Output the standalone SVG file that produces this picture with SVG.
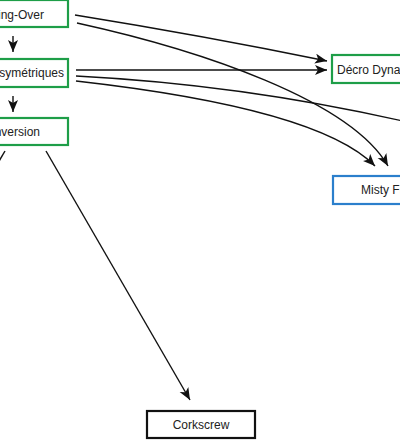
<svg xmlns="http://www.w3.org/2000/svg" width="400" height="440" viewBox="0 0 400 440">
  <style>
    .g{fill:#fff;stroke:#1e9e48;stroke-width:2.2}
    .b{fill:#fff;stroke:#2b7fcc;stroke-width:2.2}
    .k{fill:#fff;stroke:#111;stroke-width:2.2}
    .t{font-family:"Liberation Sans","DejaVu Sans",sans-serif;font-size:12px;fill:#222}
    .e{fill:none;stroke:#111;stroke-width:1.4}
  </style>
  <defs>
    <marker id="ah" markerUnits="userSpaceOnUse" markerWidth="14" markerHeight="12" refX="12" refY="5" orient="auto">
      <path d="M0,0 L12,5 L0,10 L3,5 z" fill="#111"/>
    </marker>
  </defs>
  <rect width="400" height="440" fill="#fff"/>
  <g id="connectors">
    <line class="e" x1="13" y1="36" x2="13" y2="52" marker-end="url(#ah)"/>
    <line class="e" x1="13" y1="96" x2="13" y2="112" marker-end="url(#ah)"/>
    <path class="e" d="M75,15 Q205,36 327,61" marker-end="url(#ah)"/>
    <path class="e" d="M77,23 C200,50 350,100 388,166" marker-end="url(#ah)"/>
    <path class="e" d="M76,70 L327,70" marker-end="url(#ah)"/>
    <path class="e" d="M76,76 Q250,85 420,125" marker-end="url(#ah)"/>
    <path class="e" d="M76,81 C200,95 330,120 375,166" marker-end="url(#ah)"/>
    <path class="e" d="M46,151 L190,400" marker-end="url(#ah)"/>
    <path class="e" d="M5,151 L-15,185" marker-end="url(#ah)"/>
  </g>
  <g id="n-crossing">
    <rect class="g" x="-60" y="0" width="128" height="27"/>
    <text class="t" x="44" y="19" text-anchor="end">Crossing-Over</text>
  </g>
  <g id="n-asym">
    <rect class="g" x="-60" y="59" width="128" height="28"/>
    <text class="t" x="64" y="77" text-anchor="end">Asymétriques</text>
  </g>
  <g id="n-inversion">
    <rect class="g" x="-60" y="118" width="128" height="27"/>
    <text class="t" x="40" y="136" text-anchor="end">Inversion</text>
  </g>
  <g id="n-decro">
    <rect class="g" x="332" y="55" width="120" height="28"/>
    <text class="t" x="337" y="74">Décro Dynamique</text>
  </g>
  <g id="n-misty">
    <rect class="b" x="333" y="176" width="120" height="28"/>
    <text class="t" x="361" y="194">Misty Flip</text>
  </g>
  <g id="n-corkscrew">
    <rect class="k" x="147" y="411" width="108" height="27"/>
    <text class="t" x="201" y="429" text-anchor="middle">Corkscrew</text>
  </g>
</svg>
